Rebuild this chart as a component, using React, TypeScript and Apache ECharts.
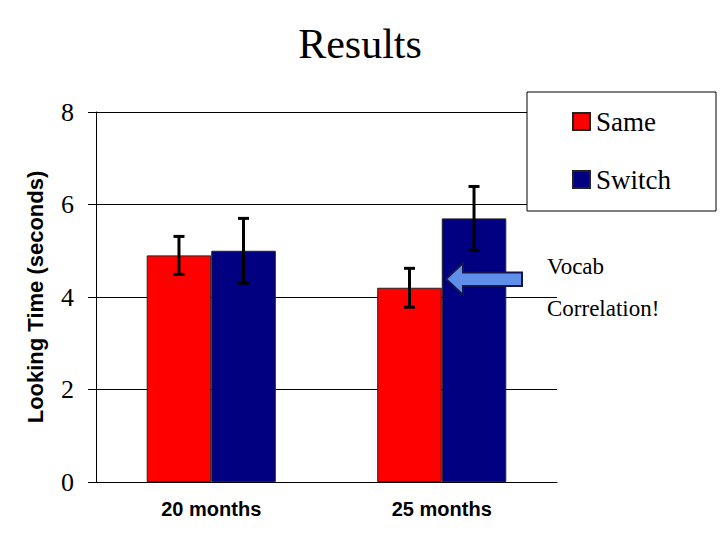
import React, { useEffect, useRef } from "react";
import * as echarts from "echarts";

const categories = ["20 months", "25 months"];
const seriesNames = ["Same", "Switch"];
const sameMeans = [4.9, 4.2];
const switchMeans = [5.0, 5.7];
const sameErr = [0.41, 0.42];
const switchErr = [0.7, 0.69];
const yTicks = { min: 0, max: 8, interval: 2 };
const noteLines = ["Vocab", "Correlation!"];

const SERIF = "'Liberation Serif', 'Times New Roman', serif";
const SANS = "'Liberation Sans', Arial, sans-serif";
const BAR_FRAC = 0.28;

function errorSeries(means: number[], errs: number[], sign: number) {
  return {
    type: "custom",
    z: 5,
    silent: true,
    data: means.map((m, i) => [i, m, errs[i]]),
    encode: { x: 0, y: 1 },
    renderItem: (params: any, api: any) => {
      const idx = api.value(0);
      const m = api.value(1);
      const e = api.value(2);
      const band = api.size([1, 0])[0];
      const off = (band * BAR_FRAC) / 2 * sign;
      const top = api.coord([idx, m + e]);
      const bot = api.coord([idx, m - e]);
      const x = top[0] + off;
      const cap = 5.5;
      const style = { stroke: "#000", lineWidth: 3 };
      return {
        type: "group",
        children: [
          { type: "line", shape: { x1: x, y1: top[1], x2: x, y2: bot[1] }, style },
          { type: "line", shape: { x1: x - cap, y1: top[1], x2: x + cap, y2: top[1] }, style },
          { type: "line", shape: { x1: x - cap, y1: bot[1], x2: x + cap, y2: bot[1] }, style },
        ],
      };
    },
  };
}

export default function App() {
  const ref = useRef<HTMLDivElement>(null);
  useEffect(() => {
    if (!ref.current) return;
    const chart = echarts.init(ref.current, undefined, { renderer: "svg" });
    chart.setOption({
      animation: false,
      backgroundColor: "#fff",
      title: {
        text: "Results",
        left: "center",
        top: 18,
        textStyle: { fontFamily: SERIF, fontSize: 42, fontWeight: "normal", color: "#000" },
      },
      legend: {
        data: seriesNames,
        orient: "vertical",
        left: 527,
        top: 92,
        padding: [16, 45, 18, 45],
        itemWidth: 17,
        itemHeight: 17,
        itemGap: 31,
        backgroundColor: "#fff",
        borderColor: "#000",
        borderWidth: 1,
        borderRadius: 0,
        icon: "rect",
        textStyle: { fontFamily: SERIF, fontSize: 27, color: "#000", padding: [0, 0, 0, 1] },
      },
      grid: { left: 96, right: 163, top: 112, bottom: 58 },
      xAxis: {
        type: "category",
        data: categories,
        axisLine: { show: true, lineStyle: { color: "#000", width: 1 } },
        axisTick: { show: false },
        axisLabel: { fontFamily: SANS, fontWeight: "bold", fontSize: 20, color: "#000", margin: 17 },
      },
      yAxis: {
        type: "value",
        min: yTicks.min,
        max: yTicks.max,
        interval: yTicks.interval,
        name: "Looking Time (seconds)",
        nameLocation: "middle",
        nameGap: 50,
        nameTextStyle: { fontFamily: SANS, fontWeight: "bold", fontSize: 22, color: "#000" },
        axisLine: { show: true, lineStyle: { color: "#000", width: 1 } },
        axisTick: { show: true, length: 8, lineStyle: { color: "#000" } },
        axisLabel: { fontFamily: SERIF, fontSize: 26, color: "#000", margin: 22 },
        splitLine: { show: true, lineStyle: { color: "#000", width: 1 } },
      },
      series: [
        {
          name: seriesNames[0],
          type: "bar",
          data: sameMeans,
          barWidth: BAR_FRAC * 100 + "%",
          barGap: "0%",
          itemStyle: { color: "#ff0000", borderColor: "#222", borderWidth: 1 },
        },
        {
          name: seriesNames[1],
          type: "bar",
          data: switchMeans,
          barWidth: BAR_FRAC * 100 + "%",
          barGap: "0%",
          itemStyle: { color: "#000080", borderColor: "#222", borderWidth: 1 },
        },
        errorSeries(sameMeans, sameErr, -1),
        errorSeries(switchMeans, switchErr, 1),
      ],
      graphic: [
        {
          type: "polygon",
          z: 10,
          shape: {
            points: [
              [446, 279],
              [463, 263],
              [463, 272.5],
              [522, 272.5],
              [522, 286],
              [463, 286],
              [463, 295],
            ],
          },
          style: { fill: "#5f8fe8", stroke: "#141450", lineWidth: 2 },
        },
        {
          type: "text",
          z: 10,
          style: {
            x: 547,
            y: 266,
            text: noteLines[0],
            font: "23px " + SERIF,
            fill: "#000",
            verticalAlign: "middle",
          },
        },
        {
          type: "text",
          z: 10,
          style: {
            x: 547,
            y: 308,
            text: noteLines[1],
            font: "23px " + SERIF,
            fill: "#000",
            verticalAlign: "middle",
          },
        },
      ],
    });
    return () => chart.dispose();
  }, []);
  return (
    <div
      ref={ref}
      style={{ position: "absolute", left: 0, top: 0, width: 720, height: 540 }}
    />
  );
}
